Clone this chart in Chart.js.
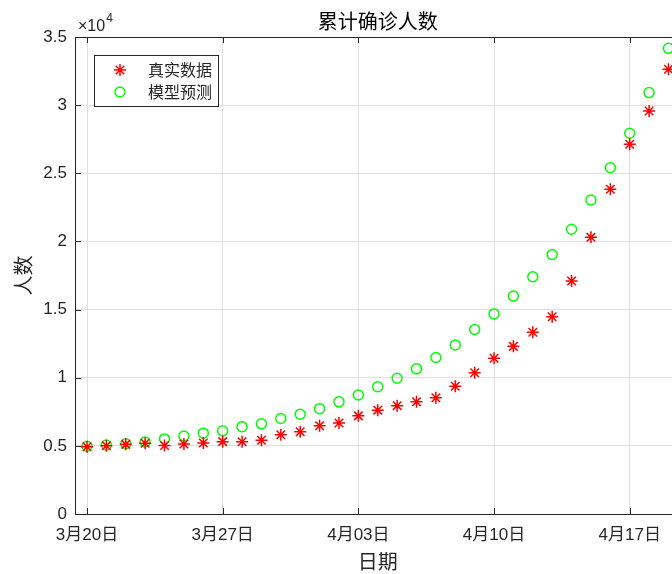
<!DOCTYPE html>
<html><head><meta charset="utf-8">
<script src="https://cdn.jsdelivr.net/npm/chart.js@4/dist/chart.umd.min.js"></script>
<style>
html,body{margin:0;padding:0;overflow:hidden;background:#fff;width:672px;height:574px}
#wrap{position:relative;width:688px;height:574px}
</style>
</head><body><div id="wrap"><canvas id="c" width="688" height="574"></canvas></div>
<script>
// day index 0 = 3月20日
const days = [0,1,2,3,4,5,6,7,8,9,10,11,12,13,14,15,16,17,18,19,20,21,22,23,24,25,26,27,28,29,30];
const realData = [4940,5010,5110,5190,5030,5140,5210,5310,5300,5410,5810,6040,6480,6680,7200,7620,7950,8230,8530,9370,10370,11425,12300,13330,14470,17100,20300,23830,27130,29570,32630];
const modelData = [4970,5060,5160,5280,5510,5720,5930,6100,6410,6615,7010,7320,7730,8230,8730,9340,9960,10650,11480,12400,13540,14680,15990,17410,19040,20890,23040,25410,27940,30920,34170];
const tickDays = [0,7,14,21,28];
const tickLabels = ["3月20日","3月27日","4月03日","4月10日","4月17日"];
const yTicks = [0,5000,10000,15000,20000,25000,30000,35000];
const seriesNames = ["真实数据","模型预测"];
const titleText = "累计确诊人数";
const xTitle = "日期";
const yTitle = "人数";

const FONT = "'Liberation Sans','Noto Sans CJK SC',sans-serif";
const CJK = "'Noto Sans CJK SC','Liberation Sans',sans-serif";
const AX = '#262626';
const GRID = '#dfdfdf';

const deco = {
  id: 'deco',
  afterDatasetsDraw(chart) {
    const ctx = chart.ctx, a = chart.chartArea;
    const xs = chart.scales.x, ys = chart.scales.y;
    ctx.save();
    ctx.strokeStyle = AX; ctx.lineWidth = 1;
    ctx.beginPath();
    const top = Math.floor(a.top) + 0.5, right = Math.floor(a.right) + 0.5;
    ctx.moveTo(a.left, top); ctx.lineTo(a.right, top);
    ctx.moveTo(right, a.top); ctx.lineTo(right, a.bottom);
    xs.ticks.forEach(t => {
      const px = Math.round(xs.getPixelForValue(t.value)) + 0.5;
      ctx.moveTo(px, a.bottom); ctx.lineTo(px, a.bottom - 6);
      ctx.moveTo(px, a.top); ctx.lineTo(px, a.top + 6);
    });
    ys.ticks.forEach(t => {
      const py = Math.round(ys.getPixelForValue(t.value)) + 0.5;
      ctx.moveTo(a.left, py); ctx.lineTo(a.left + 6, py);
      ctx.moveTo(a.right, py); ctx.lineTo(a.right - 6, py);
    });
    ctx.stroke();

    // legend
    const lx = 94.5, ly = 55.5, lw = 124, lh = 51;
    ctx.fillStyle = '#fff';
    ctx.fillRect(lx, ly, lw, lh);
    ctx.strokeStyle = AX;
    ctx.strokeRect(lx, ly, lw, lh);
    chart.data.datasets.forEach((ds, i) => {
      const cy = 70 + i * 22;
      ctx.save();
      ctx.strokeStyle = ds.borderColor;
      ctx.fillStyle = 'rgba(0,0,0,0)';
      ctx.lineWidth = ds.pointBorderWidth;
      Chart.helpers.drawPoint(ctx, {pointStyle: ds.pointStyle, radius: ds.pointRadius, borderWidth: ds.pointBorderWidth, rotation: 0}, 120, cy);
      ctx.restore();
      ctx.fillStyle = AX;
      ctx.font = '16px ' + CJK;
      ctx.textAlign = 'left'; ctx.textBaseline = 'middle';
      ctx.fillText(ds.label, 148, cy);
    });

    // title
    ctx.fillStyle = '#000';
    ctx.font = '20px ' + CJK;
    ctx.textAlign = 'center'; ctx.textBaseline = 'middle';
    ctx.fillText(titleText, (a.left + a.right) / 2, 21);

    // axis titles
    ctx.fillStyle = AX;
    ctx.fillText(xTitle, (a.left + a.right) / 2, 561);
    ctx.save();
    ctx.translate(23, (a.top + a.bottom) / 2);
    ctx.rotate(-Math.PI / 2);
    ctx.fillText(yTitle, 0, 0);
    ctx.restore();

    // exponent label
    ctx.font = '16px ' + FONT;
    ctx.textAlign = 'left'; ctx.textBaseline = 'alphabetic';
    ctx.fillText('\u00d710', 78, 31);
    const w = ctx.measureText('\u00d710').width;
    ctx.font = '12px ' + FONT;
    ctx.fillText('4', 78 + w + 1, 22);
    ctx.restore();
  }
};

new Chart(document.getElementById('c'), {
  type: 'scatter',
  data: {
    datasets: [
      {
        label: seriesNames[0],
        data: days.map((d, i) => ({x: d, y: realData[i]})),
        pointStyle: 'star', pointRadius: 6, pointBorderWidth: 1.5,
        borderColor: '#ff0000', backgroundColor: '#ff0000',
        pointBackgroundColor: '#ff0000', pointBorderColor: '#ff0000'
      },
      {
        label: seriesNames[1],
        data: days.map((d, i) => ({x: d, y: modelData[i]})),
        pointStyle: 'circle', pointRadius: 5, pointBorderWidth: 1.5,
        borderColor: '#00ff00', backgroundColor: 'rgba(0,0,0,0)',
        pointBackgroundColor: 'rgba(0,0,0,0)', pointBorderColor: '#00ff00'
      }
    ]
  },
  options: {
    responsive: false, animation: false, devicePixelRatio: 1,
    layout: {padding: {top: 37, right: 2, left: 0, bottom: 0}},
    plugins: {legend: {display: false}, title: {display: false}, tooltip: {enabled: false}},
    scales: {
      x: {
        type: 'linear', min: -0.62, max: 30.62,
        afterBuildTicks: s => { s.ticks = tickDays.map(v => ({value: v})); },
        afterFit: s => { s.height = 60; },
        grid: {color: GRID, drawTicks: false, lineWidth: 1},
        border: {color: AX, width: 1},
        ticks: {
          padding: 11, color: AX, font: {family: FONT, size: 17},
          maxRotation: 0, autoSkip: false,
          callback: v => tickLabels[tickDays.indexOf(v)]
        }
      },
      y: {
        min: 0, max: 35000,
        afterBuildTicks: s => { s.ticks = yTicks.map(v => ({value: v})); },
        afterFit: s => { s.width = 75; },
        grid: {color: GRID, drawTicks: false, lineWidth: 1},
        border: {color: AX, width: 1},
        ticks: {
          padding: 8, color: AX, font: {family: FONT, size: 17},
          callback: v => String(v / 10000)
        }
      }
    }
  },
  plugins: [deco]
});
</script>
</body></html>
